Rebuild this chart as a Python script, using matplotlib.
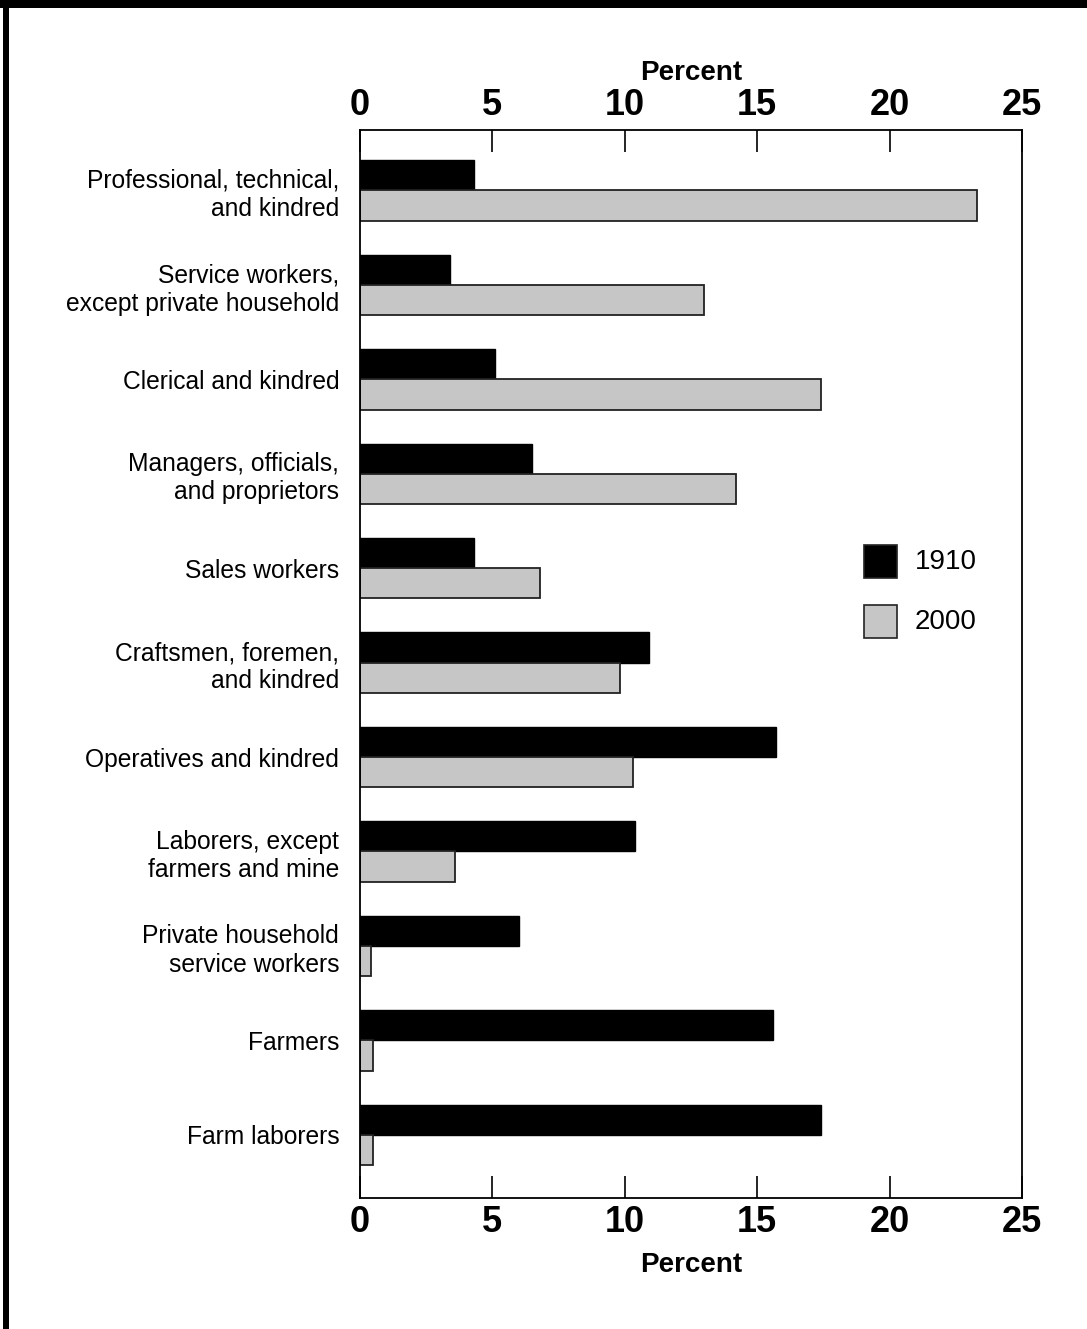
import numpy as np
import matplotlib

matplotlib.use("Agg")
import matplotlib.pyplot as plt
from matplotlib.patches import Rectangle

CATEGORIES = [
    "Professional, technical,\nand kindred",
    "Service workers,\nexcept private household",
    "Clerical and kindred",
    "Managers, officials,\nand proprietors",
    "Sales workers",
    "Craftsmen, foremen,\nand kindred",
    "Operatives and kindred",
    "Laborers, except\nfarmers and mine",
    "Private household\nservice workers",
    "Farmers",
    "Farm laborers",
]
PCT_1910 = [4.3, 3.4, 5.1, 6.5, 4.3, 10.9, 15.7, 10.4, 6.0, 15.6, 17.4]
PCT_2000 = [23.3, 13.0, 17.4, 14.2, 6.8, 9.8, 10.3, 3.6, 0.4, 0.5, 0.5]
YEARS = ["1910", "2000"]
XTICKS = [0, 5, 10, 15, 20, 25]

NARROW = ["Liberation Sans Narrow", "Liberation Sans", "DejaVu Sans"]
LABEL_FONT = ["Liberation Sans", "DejaVu Sans"]
GREY = "#c6c6c6"

fig = plt.figure(figsize=(10.87, 13.29), dpi=100)
ax = fig.add_axes([360 / 1087, 131 / 1329, 662 / 1087, 1068 / 1329])

y = np.arange(len(CATEGORIES))
h = 0.32
ax.barh(y - h / 2, PCT_1910, height=h, color="black", edgecolor="black", lw=1.0, label=YEARS[0])
ax.barh(y + h / 2, PCT_2000, height=h, color=GREY, edgecolor="#222222", lw=1.3, label=YEARS[1])

ax.set_xlim(0, 25)
ax.set_ylim(len(CATEGORIES) - 0.33, -0.64)
ax.set_xticks(XTICKS)
ax.tick_params(axis="x", which="both", direction="in", length=16, width=1.2,
               top=True, labeltop=True, bottom=True, labelbottom=True, pad=5)
for lab in ax.get_xticklabels():
    lab.set_fontfamily(NARROW)
    lab.set_fontweight("bold")
    lab.set_fontsize(26)
ax.set_yticks(y)
ax.set_yticklabels(CATEGORIES, fontfamily=LABEL_FONT, fontsize=17.7, linespacing=1.22)
ax.tick_params(axis="y", length=0, pad=15)
for sp in ax.spines.values():
    sp.set_linewidth(1.3)

ax.set_xlabel("Percent", fontfamily=NARROW, fontweight="bold", fontsize=20, labelpad=9)
ax.text(0.5, 1.041, "Percent", transform=ax.transAxes, ha="center", va="bottom",
        fontfamily=NARROW, fontweight="bold", fontsize=20)

# legend drawn as squares + labels
for i, (yr, col) in enumerate(zip(YEARS, ["black", GREY])):
    fig.patches.append(Rectangle((864 / 1087, 1 - (578 + i * 60) / 1329), 33 / 1087, 33 / 1329,
                                 transform=fig.transFigure, facecolor=col,
                                 edgecolor="#222222", lw=1.2))
    fig.text(915 / 1087, 1 - (562 + i * 60) / 1329, yr, ha="left", va="center",
             fontfamily=NARROW, fontsize=20)

# outer frame: heavy top band and left rule
fig.patches.append(Rectangle((0, 1 - 8 / 1329), 1, 8 / 1329, transform=fig.transFigure,
                             facecolor="black", edgecolor="none"))
fig.patches.append(Rectangle((3 / 1087, 0), 6 / 1087, 1, transform=fig.transFigure,
                             facecolor="black", edgecolor="none"))

fig.savefig("out.png", dpi=100, facecolor="white")
